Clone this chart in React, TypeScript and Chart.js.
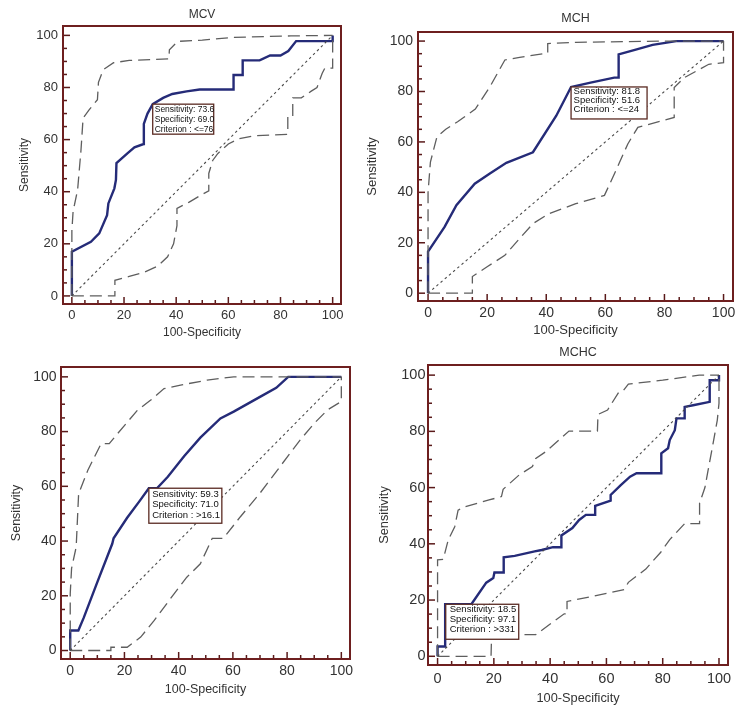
import React, { useEffect, useRef } from "react";
import { Chart, registerables } from "chart.js";

Chart.register(...registerables);

type Pt = [number, number];

// ---------- shared axis data ----------
const MAJOR_TICKS = [0, 20, 40, 60, 80, 100];
const MINOR_TICKS = [0, 5, 10, 15, 20, 25, 30, 35, 40, 45, 50, 55, 60, 65, 70, 75, 80, 85, 90, 95, 100];
const X_TITLE = "100-Specificity";
const Y_TITLE = "Sensitivity";
const DIAGONAL: Pt[] = [[0, 0], [100, 100]];

// ---------- MCV ----------
const MCV_TITLE = "MCV";
const MCV_ROC: Pt[] = [
  [0, 0], [0, 17], [7.3, 20.8], [10.5, 24], [13.5, 31], [14, 35.5], [16.3, 41.3], [16.9, 44.5],
  [17.1, 51], [21.4, 54.8], [24, 57], [27.5, 58.3], [27.6, 66], [29, 70], [31, 73.6], [35, 76],
  [38.5, 77.5], [44, 78.5], [49, 79.2], [62, 79.2], [62, 84.8], [65.5, 84.8], [65.5, 90.4],
  [72, 90.4], [76, 92.3], [80, 92.3], [83, 94], [86, 97.8], [100, 97.8], [100, 100],
];
const MCV_UPPER: Pt[] = [
  [0, 0], [0, 25], [0.5, 33], [1, 35], [2.2, 40.7], [3.5, 56], [4.3, 68.2], [6.6, 71.4], [9.8, 75.3],
  [10.2, 82], [12, 86.8], [16, 89.5], [22, 90.4], [37.2, 91], [37.4, 94.5], [40.6, 97.7], [50, 98.2],
  [62, 99.2], [84, 99.8], [100, 100],
];
const MCV_LOWER: Pt[] = [
  [0, 0], [16.5, 0], [16.5, 6], [22, 7.5], [28, 9.2], [33, 11.5], [36.7, 15], [39, 20], [40.3, 27],
  [40.3, 33.6], [45, 36], [50, 39], [52.5, 40.3], [52.5, 47], [54, 52], [56, 54.7], [60, 58.3],
  [64, 60.3], [70, 61.5], [82.8, 62], [82.8, 68.7], [84.7, 68.7], [84.7, 76], [88, 76], [91.8, 78.6],
  [94, 80], [96, 85.5], [97, 87.4], [100, 87.4], [100, 100],
];
const MCV_POINT: Pt = [31, 73.6];
const MCV_BOX = ["Sensitivity: 73.6", "Specificity: 69.0", "Criterion : <=76"];

// ---------- MCH ----------
const MCH_TITLE = "MCH";
const MCH_ROC: Pt[] = [
  [0, 0], [0, 16.5], [5.6, 26.3], [9.6, 34.9], [15.8, 43.4], [20.8, 47.4], [26.5, 51.7], [35.5, 55.9],
  [43.4, 70.4], [48.4, 81.8], [55, 83.5], [63, 85.5], [64.5, 85.5], [64.5, 94.7], [70, 96.5],
  [76, 98.5], [84, 100], [100, 100],
];
const MCH_UPPER: Pt[] = [
  [0, 0], [0, 40], [0.8, 52], [3, 62], [6, 65], [10, 68], [16, 73], [21, 82], [26, 92.5], [31, 93.5],
  [40.5, 95.3], [40.5, 99], [50, 99.5], [80, 100], [100, 100],
];
const MCH_LOWER: Pt[] = [
  [0, 0], [15, 0], [15, 6.6], [20, 10.5], [26, 15], [31, 21.7], [35.5, 27.6], [41, 31.6], [50, 35.5],
  [59.7, 38.8], [63.6, 48.7], [67.6, 59.2], [71, 65.8], [83.3, 69.7], [83.3, 81.6], [86.7, 85.5],
  [95, 90.8], [100, 91.4], [100, 100],
];
const MCH_POINT: Pt = [48.4, 81.8];
const MCH_BOX = ["Sensitivity: 81.8", "Specificity: 51.6", "Criterion : <=24"];

// ---------- third panel (no title) ----------
const P3_TITLE = "";
const P3_ROC: Pt[] = [
  [0, 0], [0, 7.3], [3, 7.3], [5, 12], [10, 25], [15.5, 39], [16, 41], [21, 48.5], [25.5, 54.5],
  [29, 59.3], [32, 59.3], [36, 63.5], [42, 71], [48, 77.8], [55.4, 84.8], [60.3, 87.3], [70, 92.7],
  [76, 96], [80.4, 100], [100, 100],
];
const P3_UPPER: Pt[] = [
  [0, 0], [0, 20.7], [0.5, 30], [2.2, 37.8], [3.1, 57.3], [6.5, 65.9], [11.4, 75.6], [14.4, 75.6],
  [17.5, 79.3], [24.8, 87.8], [29.7, 91.5], [34.6, 95.7], [40.7, 97], [50.5, 98.8], [60.3, 100],
  [100, 100],
];
const P3_LOWER: Pt[] = [
  [0, 0], [15, 0], [15, 1.2], [21, 1.2], [26, 4.9], [31, 11], [38.3, 20.7], [43, 26.8], [48, 31.7],
  [52.4, 41], [56.5, 41], [62.7, 48.8], [70, 57.5], [78, 68], [84.7, 76.8], [90, 83], [95, 88],
  [100, 91], [100, 100],
];
const P3_POINT: Pt = [29, 59.3];
const P3_BOX = ["Sensitivity: 59.3", "Specificity: 71.0", "Criterion : >16.1"];

// ---------- MCHC ----------
const MCHC_TITLE = "MCHC";
const MCHC_ROC: Pt[] = [
  [0, 0], [0, 3.5], [2.7, 3.5], [2.7, 18.5], [12, 18.5], [17.3, 26.2], [19.8, 27.8], [20.2, 29.8],
  [23.5, 29.8], [23.5, 35.2], [27.4, 35.7], [34.5, 37.3], [37, 37.8], [41, 38.8], [44, 38.8],
  [44, 43], [47.9, 45.6], [50.3, 48.5], [52.7, 50.3], [56, 50.3], [56, 53.5], [61.5, 55.4],
  [61.5, 57.4], [65.1, 60.9], [68.4, 63.9], [70.7, 65.1], [79.5, 65.1], [79.5, 72.2], [81.9, 74],
  [82.5, 76.9], [84.3, 80.4], [84.9, 84.6], [87.8, 84.6], [87.8, 88.7], [90.8, 89.3], [96.7, 90.5],
  [96.7, 98.2], [100, 98.2], [100, 100],
];
const MCHC_UPPER: Pt[] = [
  [0, 0], [0, 34.3], [2, 34.5], [3.8, 41.4], [6.1, 46.1], [7.3, 52], [9.8, 53.2], [18.3, 55.6],
  [22.7, 56.8], [23.3, 59.4], [29, 64.5], [33.7, 67.5], [34.9, 70.4], [38.5, 72.8], [46.7, 80.1],
  [56.8, 80.1], [57, 86], [60.4, 87.6], [64.5, 94.1], [66, 94.5], [67.8, 96.8], [80, 98.2],
  [93, 100], [100, 100],
];
const MCHC_LOWER: Pt[] = [
  [0, 0], [19, 0], [19.2, 7.7], [34.9, 7.7], [45, 15.1], [46, 15.1], [46, 19.5], [55, 21.3],
  [66.3, 23.7], [67.8, 26.3], [74, 31], [76.6, 34], [79.3, 37], [82.5, 41.5], [87.8, 47.2],
  [93.1, 47.2], [93.1, 54.5], [95, 60], [96.1, 66], [97.9, 75.7], [99.4, 84], [100, 90], [100, 100],
];
const MCHC_POINT: Pt = [2.9, 18.5];
const MCHC_BOX = ["Sensitivity: 18.5", "Specificity: 97.1", "Criterion : >331"];

// ---------- styling / layout ----------
const FONT = "'Liberation Sans', Arial, Helvetica, sans-serif";
const TEXT_COLOR = "#333333";
const FRAME_COLOR = "#6e1f1f";
const TICK_COLOR = "#5a1a1a";
const ROC_COLOR = "#252b78";
const CI_COLOR = "#5e5e5e";
const DIAG_COLOR = "#4a4a4a";

interface Layout {
  canvas: { x: number; y: number; w: number; h: number };
  area: { l: number; t: number; r: number; b: number };
  titleY: number;
  yTitleX: number;
  xTitleY: number;
  yTickPad: number;
  xTickPad: number;
  tickFont: number;
  axisFont: number;
  titleFont: number;
  box: { w: number; h: number; font: number; lh: number; padX: number; padTop: number };
}

interface PanelSpec {
  title: string;
  roc: Pt[];
  upper: Pt[];
  lower: Pt[];
  point: Pt;
  box: string[];
  layout: Layout;
}

const PANELS: PanelSpec[] = [
  {
    title: MCV_TITLE, roc: MCV_ROC, upper: MCV_UPPER, lower: MCV_LOWER, point: MCV_POINT, box: MCV_BOX,
    layout: {
      canvas: { x: 0, y: 0, w: 356, h: 350 }, area: { l: 63, t: 26, r: 341, b: 304 },
      titleY: 15, yTitleX: 25, xTitleY: 333, yTickPad: 5, xTickPad: 4,
      tickFont: 13, axisFont: 12, titleFont: 12,
      box: { w: 61, h: 30, font: 8.5, lh: 10, padX: 2, padTop: 5 },
    },
  },
  {
    title: MCH_TITLE, roc: MCH_ROC, upper: MCH_UPPER, lower: MCH_LOWER, point: MCH_POINT, box: MCH_BOX,
    layout: {
      canvas: { x: 356, y: 0, w: 397, h: 345 }, area: { l: 418, t: 32, r: 733, b: 301 },
      titleY: 19, yTitleX: 372, xTitleY: 330, yTickPad: 5, xTickPad: 3.5,
      tickFont: 14, axisFont: 13, titleFont: 12.5,
      box: { w: 76, h: 32, font: 9.5, lh: 9, padX: 2.5, padTop: 4.5 },
    },
  },
  {
    title: P3_TITLE, roc: P3_ROC, upper: P3_UPPER, lower: P3_LOWER, point: P3_POINT, box: P3_BOX,
    layout: {
      canvas: { x: 0, y: 350, w: 370, h: 371 }, area: { l: 61, t: 367, r: 350, b: 659 },
      titleY: 355, yTitleX: 17, xTitleY: 690, yTickPad: 4.5, xTickPad: 4,
      tickFont: 14, axisFont: 12.5, titleFont: 12.5,
      box: { w: 73, h: 35, font: 9.5, lh: 10.5, padX: 3.3, padTop: 5.7 },
    },
  },
  {
    title: MCHC_TITLE, roc: MCHC_ROC, upper: MCHC_UPPER, lower: MCHC_LOWER, point: MCHC_POINT, box: MCHC_BOX,
    layout: {
      canvas: { x: 370, y: 340, w: 383, h: 381 }, area: { l: 428, t: 365, r: 728, b: 665 },
      titleY: 353, yTitleX: 384, xTitleY: 698, yTickPad: 2.5, xTickPad: 5,
      tickFont: 14.5, axisFont: 12.8, titleFont: 12.5,
      box: { w: 73, h: 35, font: 9.5, lh: 10, padX: 4, padTop: 5.5 },
    },
  },
];

const X_MIN = -3.4, X_MAX = 103.2, Y_MIN = -3.1, Y_MAX = 103.6;

function RocPanel({ spec }: { spec: PanelSpec }) {
  const ref = useRef<HTMLCanvasElement>(null);

  useEffect(() => {
    const canvas = ref.current;
    if (!canvas) return;
    const L = spec.layout;
    const c = L.canvas;
    const a = L.area;
    const toXY = (pts: Pt[]) => pts.map(([x, y]) => ({ x, y }));
    const axisLH = L.axisFont * 1.2;

    const decor = {
      id: "rocDecor",
      afterDatasetsDraw(chart: any) {
        const { ctx, chartArea: ca, scales } = chart;
        const xs = scales.x;
        const ys = scales.y;
        ctx.save();
        // tick marks pointing inward
        ctx.strokeStyle = TICK_COLOR;
        ctx.lineWidth = 1.5;
        for (const v of MINOR_TICKS) {
          const len = MAJOR_TICKS.includes(v) ? 7 : 4;
          const px = xs.getPixelForValue(v);
          ctx.beginPath();
          ctx.moveTo(px, ca.bottom);
          ctx.lineTo(px, ca.bottom - len);
          ctx.stroke();
          const py = ys.getPixelForValue(v);
          ctx.beginPath();
          ctx.moveTo(ca.left, py);
          ctx.lineTo(ca.left + len, py);
          ctx.stroke();
        }
        // frame
        ctx.strokeStyle = FRAME_COLOR;
        ctx.lineWidth = 2;
        ctx.strokeRect(ca.left, ca.top, ca.right - ca.left, ca.bottom - ca.top);

        // criterion box
        const bx = xs.getPixelForValue(spec.point[0]);
        const by = ys.getPixelForValue(spec.point[1]);
        const B = L.box;
        ctx.fillStyle = "#ffffff";
        ctx.fillRect(bx, by, B.w, B.h);
        ctx.strokeStyle = "#5a2a22";
        ctx.lineWidth = 1.3;
        ctx.strokeRect(bx, by, B.w, B.h);
        ctx.fillStyle = "#111111";
        ctx.font = `${B.font}px ${FONT}`;
        ctx.textAlign = "left";
        ctx.textBaseline = "middle";
        spec.box.forEach((line, i) => {
          ctx.fillText(line, bx + B.padX, by + B.padTop + i * B.lh);
        });

        // panel title
        if (spec.title) {
          ctx.fillStyle = TEXT_COLOR;
          ctx.font = `${L.titleFont}px ${FONT}`;
          ctx.textAlign = "center";
          ctx.textBaseline = "middle";
          ctx.fillText(spec.title, (ca.left + ca.right) / 2, L.titleY - c.y);
        }
        ctx.restore();
      },
    };

    const ticksCommon = (pad: number) => ({
      padding: pad,
      color: TEXT_COLOR,
      font: { family: FONT, size: L.tickFont },
      maxRotation: 0,
      autoSkip: false,
    });

    const chart = new Chart(canvas, {
      type: "scatter",
      data: {
        datasets: [
          {
            data: toXY(DIAGONAL), showLine: true, borderColor: DIAG_COLOR, borderWidth: 1.1,
            borderDash: [2.5, 3], pointRadius: 0, fill: false,
          },
          {
            data: toXY(spec.upper), showLine: true, borderColor: CI_COLOR, borderWidth: 1.3,
            borderDash: [12, 6], pointRadius: 0, fill: false,
          },
          {
            data: toXY(spec.lower), showLine: true, borderColor: CI_COLOR, borderWidth: 1.3,
            borderDash: [12, 6], pointRadius: 0, fill: false,
          },
          {
            data: toXY(spec.roc), showLine: true, borderColor: ROC_COLOR, borderWidth: 2.4,
            pointRadius: 0, fill: false,
          },
        ],
      },
      options: {
        responsive: false,
        animation: false,
        events: [],
        layout: {
          padding: { left: 0, top: a.t - c.y, right: c.x + c.w - a.r, bottom: 0 },
        },
        plugins: { legend: { display: false }, tooltip: { enabled: false }, title: { display: false } },
        scales: {
          x: {
            type: "linear",
            position: "bottom",
            min: X_MIN,
            max: X_MAX,
            grid: { display: false, drawTicks: false },
            border: { display: false },
            ticks: ticksCommon(L.xTickPad),
            afterBuildTicks: (s: any) => {
              s.ticks = MAJOR_TICKS.map((v) => ({ value: v }));
            },
            afterFit: (s: any) => {
              s.height = c.y + c.h - a.b;
            },
            title: {
              display: true,
              text: X_TITLE,
              color: TEXT_COLOR,
              font: { family: FONT, size: L.axisFont, lineHeight: 1.2 },
              padding: { top: 0, bottom: c.y + c.h - L.xTitleY - axisLH / 2 },
            },
          },
          y: {
            type: "linear",
            position: "left",
            min: Y_MIN,
            max: Y_MAX,
            grid: { display: false, drawTicks: false },
            border: { display: false },
            ticks: ticksCommon(L.yTickPad),
            afterBuildTicks: (s: any) => {
              s.ticks = MAJOR_TICKS.map((v) => ({ value: v }));
            },
            afterFit: (s: any) => {
              s.width = a.l - c.x;
            },
            title: {
              display: true,
              text: Y_TITLE,
              color: TEXT_COLOR,
              font: { family: FONT, size: L.axisFont, lineHeight: 1.2 },
              padding: { top: L.yTitleX - c.x - axisLH / 2, bottom: 0 },
            },
          },
        },
      } as any,
      plugins: [decor],
    });

    return () => chart.destroy();
  }, [spec]);

  const c = spec.layout.canvas;
  return (
    <canvas
      ref={ref}
      width={c.w}
      height={c.h}
      style={{ position: "absolute", left: c.x, top: c.y, width: c.w, height: c.h }}
    />
  );
}

export default function App() {
  return (
    <div style={{ position: "absolute", left: 0, top: 0, width: 753, height: 721, background: "#ffffff" }}>
      {PANELS.map((p, i) => (
        <RocPanel key={i} spec={p} />
      ))}
    </div>
  );
}
